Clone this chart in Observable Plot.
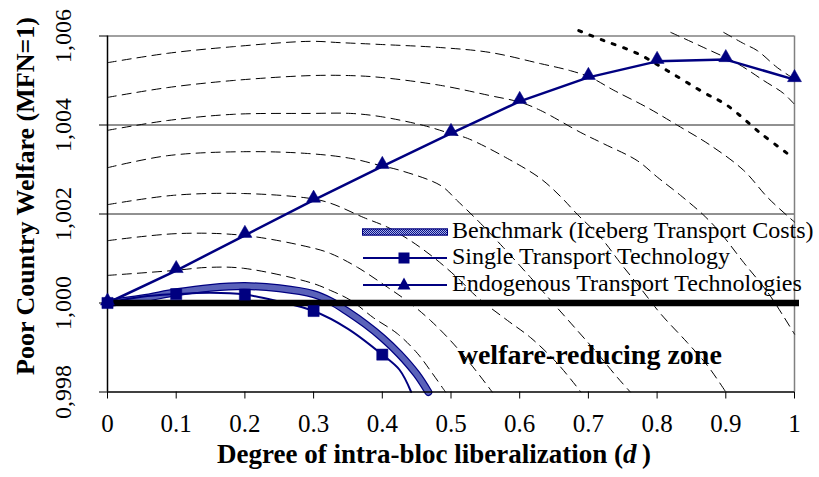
<!DOCTYPE html>
<html><head><meta charset="utf-8">
<script src="https://cdn.jsdelivr.net/npm/d3@7"></script>
<script src="https://cdn.jsdelivr.net/npm/@observablehq/plot@0.6"></script>
<style>
html,body{margin:0;padding:0;background:#fff;}
#wrap{position:relative;width:819px;height:477px;overflow:hidden;background:#fff;}
#wrap svg{display:block;}
</style></head><body>
<svg width="0" height="0" style="position:absolute">
  <defs>
    <pattern id="benchPat" width="2" height="2" patternUnits="userSpaceOnUse">
      <rect width="2" height="2" fill="#aab0ea"/>
      <rect width="1" height="1" fill="#0a1488"/>
      <rect x="1" y="1" width="1" height="1" fill="#0a1488"/>
    </pattern>
  </defs>
</svg>
<div id="wrap"></div>
<script>
const FONT = "'Liberation Serif', 'Times New Roman', serif";
const NAVY = "#000080";

// ---- axis ticks ----
const xTicks = [0, 0.1, 0.2, 0.3, 0.4, 0.5, 0.6, 0.7, 0.8, 0.9, 1];
const xTickLabels = ["0", "0.1", "0.2", "0.3", "0.4", "0.5", "0.6", "0.7", "0.8", "0.9", "1"];
const yTicks = [0.998, 1.000, 1.002, 1.004, 1.006];
const yTickLabels = ["0,998", "1,000", "1,002", "1,004", "1,006"];
const gridLines = [1.002, 1.004];

const yTitle = "Poor Country Welfare (MFN=1)";
const xTitle = "Degree of intra-bloc liberalization (d)";
const zoneLabel = [{d: 0.702, w: 0.99884, text: "welfare-reducing zone"}];

// ---- series ----
const endoD = [0, 0.1, 0.2, 0.3, 0.4, 0.5, 0.6, 0.7, 0.8, 0.9, 1];
const endoW = [1.00000, 1.00073, 1.00152, 1.00231, 1.00307, 1.00381, 1.00453, 1.00507, 1.00543, 1.00547, 1.00502];

const singleD = [0, 0.05, 0.1, 0.15, 0.2, 0.25, 0.3, 0.35, 0.4, 0.425, 0.442];
const singleW = [1.00000, 1.00014, 1.00020, 1.00023, 1.00019, 1.00003, 0.99982, 0.99942, 0.99884, 0.99850, 0.99800];
const singleMarkD = [0, 0.1, 0.2, 0.3, 0.4];

const benchD = [0, 0.05, 0.1, 0.15, 0.2, 0.25, 0.3, 0.325, 0.35, 0.375, 0.4, 0.425, 0.45, 0.467];
const benchW = [1.00000, 1.00010, 1.00024, 1.00034, 1.00038, 1.00033, 1.00020, 1.00004, 0.99980, 0.99953, 0.99922, 0.99885, 0.99840, 0.99800];

// ---- iso-welfare contours (dashed), [d, welfare] ----
const isoG = [[0,1.00062],[0.096,1.00073],[0.146,1.00080],[0.198,1.00078],[0.295,1.00046],[0.325,1.00028],[0.354,1.00006],[0.387,0.99967],[0.422,0.99931],[0.451,0.99887],[0.470,0.99848],[0.492,0.99800]];
const isoF = [[0,1.00140],[0.102,1.00156],[0.198,1.00152],[0.295,1.00125],[0.325,1.00111],[0.364,1.00080],[0.408,1.00035],[0.441,0.99999],[0.470,0.99961],[0.499,0.99916],[0.528,0.99864],[0.560,0.99800]];
const isoE = [[0,1.00221],[0.096,1.00242],[0.198,1.00246],[0.295,1.00235],[0.325,1.00224],[0.373,1.00192],[0.408,1.00170],[0.441,1.00140],[0.475,1.00102],[0.509,1.00057],[0.539,1.00012],[0.582,0.99961],[0.616,0.99922],[0.655,0.99864],[0.689,0.99800]];
const isoD = [[0,1.00304],[0.087,1.00331],[0.198,1.00340],[0.291,1.00336],[0.354,1.00325],[0.397,1.00309],[0.426,1.00298],[0.485,1.00264],[0.509,1.00230],[0.543,1.00179],[0.576,1.00125],[0.616,1.00057],[0.649,0.99999],[0.684,0.99938],[0.713,0.99887],[0.742,0.99833],[0.761,0.99800]];
const isoC = [[0,1.00388],[0.087,1.00410],[0.183,1.00424],[0.295,1.00426],[0.354,1.00426],[0.397,1.00419],[0.460,1.00399],[0.499,1.00381],[0.524,1.00370],[0.582,1.00325],[0.630,1.00280],[0.659,1.00240],[0.684,1.00199],[0.718,1.00147],[0.747,1.00089],[0.776,1.00033],[0.805,0.99976],[0.844,0.99911],[0.873,0.99860],[0.900,0.99800]];
const isoB = [[0,1.00462],[0.087,1.00484],[0.183,1.00500],[0.295,1.00511],[0.354,1.00511],[0.397,1.00507],[0.485,1.00489],[0.557,1.00466],[0.601,1.00451],[0.630,1.00433],[0.689,1.00383],[0.722,1.00358],[0.771,1.00320],[0.801,1.00282],[0.834,1.00242],[0.868,1.00197],[0.892,1.00158],[0.926,1.00091],[0.961,1.00024],[0.984,0.99970],[1.0,0.99930]];
const isoA = [[0,1.00540],[0.087,1.00561],[0.183,1.00576],[0.295,1.00588],[0.339,1.00585],[0.397,1.00581],[0.485,1.00574],[0.557,1.00563],[0.630,1.00538],[0.674,1.00522],[0.703,1.00507],[0.737,1.00478],[0.786,1.00439],[0.830,1.00399],[0.878,1.00354],[0.926,1.00298],[0.961,1.00237],[0.994,1.00190],[1.0,1.00182]];
const isoStar = [[0.686,1.00612],[0.722,1.00590],[0.771,1.00561],[0.815,1.00522],[0.868,1.00473],[0.902,1.00444],[0.951,1.00381],[0.994,1.00331]];
const isoI = [[0.820,1.00608],[0.868,1.00574],[0.917,1.00538],[0.955,1.00500],[0.984,1.00471],[0.999,1.00448]];
const isoJ = [[0.897,1.00608],[0.926,1.00583],[0.946,1.00567],[0.975,1.00529],[0.999,1.00504]];

const dashed = [isoG, isoF, isoE, isoD, isoC, isoB, isoA, isoI, isoJ];

const endo = endoD.map((d, i) => ({d, w: endoW[i]}));
const single = singleD.map((d, i) => ({d, w: singleW[i]}));
const singleMarks = single.filter(p => singleMarkD.includes(p.d));
const bench = benchD.map((d, i) => ({d, w: benchW[i]}));
const yLab = new Map(yTicks.map((t, i) => [t, yTickLabels[i]]));
const xLab = new Map(xTicks.map((t, i) => [t, xTickLabels[i]]));

const chart = Plot.plot({
  width: 819, height: 477,
  marginLeft: 107, marginRight: 25, marginTop: 35.5, marginBottom: 85.5,
  x: {domain: [0, 1], axis: null},
  y: {domain: [0.998, 1.006], axis: null},
  style: {fontFamily: FONT, background: "#fff", overflow: "visible", color: "#000"},
  marks: [
    Plot.ruleY(gridLines, {stroke: "#222", strokeWidth: 1}),
    Plot.ruleY([1.006], {stroke: "#808080", strokeWidth: 1.5}),
    Plot.ruleX([1], {stroke: "#808080", strokeWidth: 1.5}),
    ...dashed.map(c => Plot.line(c, {x: d => d[0], y: d => d[1], stroke: "#000", strokeWidth: 1, strokeDasharray: "9,6", curve: "catmull-rom"})),
    Plot.line(isoStar, {x: d => d[0], y: d => d[1], stroke: "#000", strokeWidth: 3, strokeDasharray: "3,9", curve: "catmull-rom"}),
    Plot.line(bench, {x: "d", y: "w", stroke: NAVY, strokeWidth: 8, curve: "catmull-rom"}),
    Plot.line(bench, {x: "d", y: "w", stroke: "url(#benchPat)", strokeWidth: 5.5, curve: "catmull-rom"}),
    Plot.line(single, {x: "d", y: "w", stroke: NAVY, strokeWidth: 2, curve: "catmull-rom"}),
    Plot.line(endo, {x: "d", y: "w", stroke: NAVY, strokeWidth: 2.5}),
    Plot.ruleY([1], {stroke: "#000", strokeWidth: 6.5, insetRight: -5}),
    Plot.ruleX([0], {stroke: "#000", strokeWidth: 1.5}),
    Plot.ruleY([0.998], {stroke: "#000", strokeWidth: 1.5}),
    Plot.axisX({ticks: xTicks, label: null, tickSize: 7, tickPadding: 15, tickFormat: d => xLab.get(d), fontSize: 25, fontFamily: FONT, stroke: "#000"}),
    Plot.axisY({ticks: yTicks, label: null, tickSize: 8, tickFormat: () => "", stroke: "#000"}),
    Plot.text(yTicks, {frameAnchor: "left", y: d => d, text: d => yLab.get(d), rotate: -90, dx: -44, fontSize: 24, textAnchor: "middle", lineAnchor: "middle", fill: "#000"}),
    Plot.dot(endo, {x: "d", y: "w", symbol: "triangle", r: 5.2, fill: NAVY, stroke: NAVY, strokeWidth: 0.5, dy: -2}),
    Plot.dot(singleMarks, {x: "d", y: "w", symbol: "square", r: 6.3, fill: NAVY, stroke: NAVY, strokeWidth: 0.5}),
    Plot.text(zoneLabel, {x: "d", y: "w", text: "text", fontSize: 28, fontWeight: "bold", fill: "#000", lineAnchor: "middle"}),
    Plot.text([yTitle], {frameAnchor: "left", rotate: -90, dx: -82, dy: -18, fontSize: 26, fontWeight: "bold", textAnchor: "middle", lineAnchor: "middle", fill: "#000"}),
    Plot.text([xTitle], {frameAnchor: "bottom", dx: -17, dy: 62, fontSize: 27, fontWeight: "bold", lineAnchor: "middle", fill: "#000"})
  ]
});

// italic d in x title
d3.select(chart).selectAll("text").each(function() {
  if (this.textContent === xTitle) {
    const t = d3.select(this);
    t.text("Degree of intra-bloc liberalization (");
    t.append("tspan").attr("font-style", "italic").text("d");
    t.append("tspan").text("\u2009)");
  }
});

const wrap = document.getElementById("wrap");
wrap.appendChild(chart);

// legend overlay
const legendItems = ["Benchmark (Iceberg Transport Costs)", "Single Transport Technology", "Endogenous Transport Technologies"];
const lg = d3.select(wrap).append("svg")
  .attr("width", 819).attr("height", 477)
  .style("position", "absolute").style("left", "0px").style("top", "0px")
  .style("font-family", FONT);
const rows = [232, 258, 285];
lg.append("line").attr("x1", 362).attr("x2", 448).attr("y1", rows[0]).attr("y2", rows[0]).attr("stroke", NAVY).attr("stroke-width", 7.5);
lg.append("line").attr("x1", 363).attr("x2", 447).attr("y1", rows[0]).attr("y2", rows[0]).attr("stroke", "url(#benchPat)").attr("stroke-width", 5);
lg.append("line").attr("x1", 363).attr("x2", 447).attr("y1", rows[1]).attr("y2", rows[1]).attr("stroke", NAVY).attr("stroke-width", 2);
lg.append("rect").attr("x", 398.5).attr("y", rows[1] - 5.5).attr("width", 11).attr("height", 11).attr("fill", NAVY);
lg.append("line").attr("x1", 363).attr("x2", 447).attr("y1", rows[2]).attr("y2", rows[2]).attr("stroke", NAVY).attr("stroke-width", 2);
lg.append("path").attr("d", `M404,${rows[2]-7.5}L410.5,${rows[2]+4.5}L397.5,${rows[2]+4.5}Z`).attr("fill", NAVY);
legendItems.forEach((t, i) => {
  lg.append("text").attr("x", 452).attr("y", rows[i] + 6).attr("font-size", 24).attr("fill", "#000").text(t);
});
</script>
</body></html>
